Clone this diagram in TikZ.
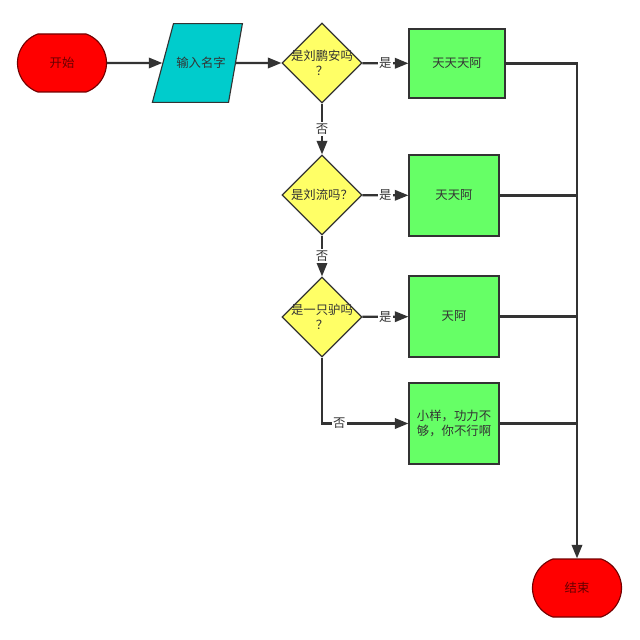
\documentclass[tikz,border=0pt]{standalone}
\usepackage{fontspec}
\setmainfont{Noto Sans CJK SC}
\usetikzlibrary{arrows.meta,shapes.geometric,shapes.misc}
\definecolor{termred}{RGB}{255,0,0}
\definecolor{iocyan}{RGB}{0,204,204}
\definecolor{askyellow}{RGB}{255,255,102}
\definecolor{dogreen}{RGB}{102,255,102}
\definecolor{inkgray}{RGB}{51,51,51}

\begin{document}
\begin{tikzpicture}[
  x=0.25mm, y=-0.25mm,
  every node/.style={font=\fontsize{8.8pt}{11pt}\selectfont, text=inkgray},
  term/.style={rounded rectangle, rounded rectangle arc length=140, draw=red!45!black, fill=termred, thick, text=red!40!black, minimum width=22.25mm, minimum height=14.5mm, inner sep=0pt},
  io/.style={trapezium, trapezium left angle=75, trapezium right angle=100, trapezium stretches body=true, draw=inkgray, fill=iocyan, thick, minimum width=22.5mm, inner xsep=0pt, inner ysep=8.4mm},
  ask/.style={diamond, draw=inkgray, fill=askyellow, thick, minimum width=20mm, minimum height=20mm, inner sep=0pt},
  asktext/.style={align=center, inner sep=0pt},
  dobox/.style={rectangle, draw=inkgray, fill=dogreen, thick, align=center, minimum width=22.5mm, minimum height=20.25mm},
  flow/.style={draw=inkgray, line width=1.6pt, -{Triangle[length=3.4mm,width=2.6mm]}},
  link/.style={draw=inkgray, line width=1.6pt},
  tag/.style={fill=white, inner sep=1pt}
]
  \useasboundingbox (0,0) rectangle (640,640);

  % 开始与输入
  \node[term] (start) at (62,63) {开始};
  \node[io] (input) at (201,63) {输入名字};

  % 判断
  \node[ask, label={[asktext]center:是刘鹏安吗\\？}] (ask1) at (322,63) {};
  \node[ask, label={[asktext]center:是刘流吗？}] (ask2) at (322,195) {};
  \node[ask, label={[asktext]center:是一只驴吗\\？}] (ask3) at (322,317) {};

  % 处理框
  \node[dobox, minimum width=24mm, minimum height=17.25mm] (res1) at (457,63.5) {天天天阿};
  \node[dobox] (res2) at (454,195.5) {天天阿};
  \node[dobox] (res3) at (454,316.5) {天阿};
  \node[dobox] (res4) at (454,423.5) {小样，功力不\\够，你不行啊};

  % 结束
  \node[term] (stop) at (577,588) {结束};

  % 连线
  \draw[flow] (start) -- (input);
  \draw[flow] (input) -- (ask1);
  \draw[flow] (ask1) -- node[tag] {是} (res1);
  \draw[flow] (ask2) -- node[tag] {是} (res2);
  \draw[flow] (ask3) -- node[tag] {是} (res3);
  \draw[flow] (ask1) -- node[tag] {否} (ask2);
  \draw[flow] (ask2) -- node[tag] {否} (ask3);
  \draw[flow] (ask3.south) |- node[tag, pos=0.6] {否} (res4.west);

  % 汇合到结束
  \draw[flow] (res1.east) -| (stop.north);
  \draw[link] (res2.east) -- (res2.east -| stop.north);
  \draw[link] (res3.east) -- (res3.east -| stop.north);
  \draw[link] (res4.east) -- (res4.east -| stop.north);
\end{tikzpicture}
\end{document}
